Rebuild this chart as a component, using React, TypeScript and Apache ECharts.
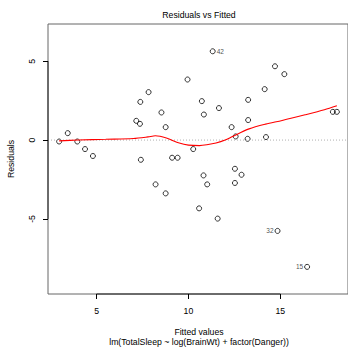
import React, { useEffect, useRef } from "react";
import * as echarts from "echarts";

const fitted = [2.96, 3.43, 3.95, 4.37, 4.80, 7.16, 7.36, 7.38, 7.41, 7.83, 8.21, 8.53, 8.76, 8.76, 9.11, 9.41, 9.95, 10.26, 10.58, 10.73, 10.82, 10.84, 11.02, 11.32, 11.59, 11.66, 12.35, 12.53, 12.53, 12.57, 12.89, 13.22, 13.25, 13.25, 14.15, 14.22, 14.71, 14.85, 15.22, 16.46, 17.86, 18.08];
const residuals = [-0.09, 0.44, -0.09, -0.57, -1.01, 1.22, 1.03, 2.42, -1.25, 3.04, -2.81, 1.75, 0.82, -3.38, -1.12, -1.12, 3.84, -0.57, -4.33, 2.47, -2.24, 1.62, -2.81, 5.63, -4.98, 2.03, 0.82, -1.82, -2.72, 0.23, -2.2, 0.08, 2.55, 1.27, 3.23, 0.19, 4.68, -5.76, 4.18, -8.04, 1.79, 1.79];

const labelIndex = [23, 37, 39];
const labelText = ["42", "32", "15"];
const labelSide = ["right", "left", "left"];

const smoothX = [2.96, 4.0, 5.5, 7.0, 7.8, 8.2, 8.8, 9.5, 10.0, 10.6, 11.0, 11.5, 12.0, 12.4, 13.3, 14.2, 15.1, 16.35, 17.4, 18.08];
const smoothY = [-0.05, 0.0, 0.05, 0.1, 0.2, 0.27, 0.13, -0.19, -0.32, -0.35, -0.3, -0.19, 0.0, 0.23, 0.71, 1.01, 1.24, 1.6, 1.92, 2.17];

const xTicks = [5, 10, 15];
const yTicks = [-5, 0, 5];
const xMin = 2.355, xMax = 18.685;
const yMin = -9.76, yMax = 7.36;

const FONT = "Liberation Sans, Arial, Helvetica, sans-serif";

export default function App() {
  const ref = useRef<HTMLDivElement>(null);
  useEffect(() => {
    if (!ref.current) return;
    const chart = echarts.init(ref.current, null, { renderer: "svg" });
    const pts = fitted.map((f, i) => {
      const k = labelIndex.indexOf(i);
      if (k >= 0) {
        return {
          value: [f, residuals[i]],
          label: {
            show: true,
            formatter: labelText[k],
            position: labelSide[k],
            distance: 1,
            fontSize: 6.5,
            color: "#222",
            fontFamily: FONT,
          },
        };
      }
      return { value: [f, residuals[i]] };
    });
    chart.setOption({
      animation: false,
      grid: {
        left: 48,
        top: 24,
        width: 302,
        height: 270,
        show: true,
        borderColor: "#666",
        borderWidth: 1,
        backgroundColor: "transparent",
      },
      xAxis: {
        type: "value",
        min: xMin,
        max: xMax,
        axisLine: { show: false, onZero: false },
        splitLine: { show: false },
        axisTick: { show: true, customValues: xTicks, length: 5, lineStyle: { color: "#000" } },
        axisLabel: { customValues: xTicks, fontSize: 8.7, color: "#000", fontFamily: FONT, margin: 12 },
      },
      yAxis: {
        type: "value",
        min: yMin,
        max: yMax,
        axisLine: { show: false, onZero: false },
        splitLine: { show: false },
        axisTick: { show: true, customValues: yTicks, length: 5, lineStyle: { color: "#000" } },
        axisLabel: { customValues: yTicks, fontSize: 8.7, color: "#000", fontFamily: FONT, margin: 12, rotate: 90 },
      },
      graphic: [
        { type: "text", x: 199, y: 15, style: { text: "Residuals vs Fitted", fontSize: 8.7, fontFamily: FONT, fill: "#000", align: "center", verticalAlign: "middle" } },
        { type: "text", x: 199, y: 332, style: { text: "Fitted values", fontSize: 8.7, fontFamily: FONT, fill: "#000", align: "center", verticalAlign: "middle" } },
        { type: "text", x: 199, y: 342, style: { text: "lm(TotalSleep ~ log(BrainWt) + factor(Danger))", fontSize: 8.7, fontFamily: FONT, fill: "#000", align: "center", verticalAlign: "middle" } },
        { type: "text", x: 11, y: 159, rotation: Math.PI / 2, style: { text: "Residuals", fontSize: 8.7, fontFamily: FONT, fill: "#000", align: "center", verticalAlign: "middle" } },
      ],
      series: [
        {
          type: "line",
          data: [[xMin, 0], [xMax, 0]],
          symbol: "none",
          silent: true,
          lineStyle: { color: "#b0b0b0", width: 1, type: [1, 2] },
        },
        {
          type: "line",
          data: [[xTicks[0], yMin], [xTicks[xTicks.length - 1], yMin]],
          symbol: "none",
          clip: false,
          silent: true,
          lineStyle: { color: "#000", width: 0.8 },
        },
        {
          type: "line",
          data: [[xMin, yTicks[0]], [xMin, yTicks[yTicks.length - 1]]],
          symbol: "none",
          clip: false,
          silent: true,
          lineStyle: { color: "#000", width: 0.8 },
        },
        {
          type: "line",
          data: smoothX.map((x, i) => [x, smoothY[i]]),
          symbol: "none",
          smooth: 0.3,
          lineStyle: { color: "#ff0000", width: 1.1 },
        },
        {
          type: "scatter",
          data: pts,
          symbol: "circle",
          symbolSize: 5,
          itemStyle: { color: "transparent", borderColor: "#000", borderWidth: 1 },
        },
      ],
    });
    return () => chart.dispose();
  }, []);
  return <div ref={ref} style={{ width: 348, height: 349, position: "absolute", left: 0, top: 0 }} />;
}
